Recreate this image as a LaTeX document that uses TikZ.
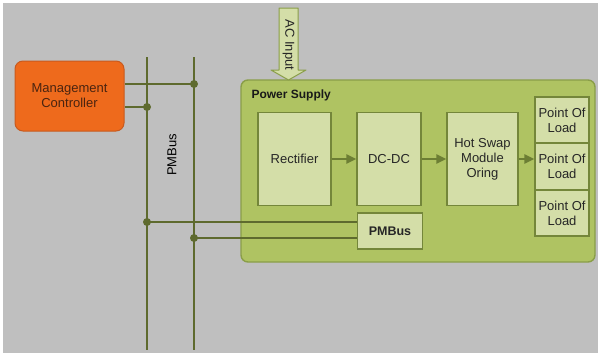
\documentclass[tikz,border=0pt]{standalone}
\usepackage{fontspec}
\setmainfont{Liberation Sans}
\usepackage{tikz}
\usetikzlibrary{arrows.meta,calc,positioning}
\definecolor{bggrey}{HTML}{BFBFBF}
\definecolor{mcorange}{HTML}{EE6A1C}
\definecolor{mcedge}{HTML}{C85A1E}
\definecolor{mctext}{HTML}{4A2410}
\definecolor{psgreen}{HTML}{AFC362}
\definecolor{psedge}{HTML}{8A9E48}
\definecolor{blockfill}{HTML}{D4DEA8}
\definecolor{blockedge}{HTML}{74863A}
\definecolor{busolive}{HTML}{5E6A2E}
\definecolor{flowolive}{HTML}{6C7E34}
\tikzset{
  label font/.style = {font=\fontsize{13}{15}\selectfont},
  controller/.style = {draw=mcedge, fill=mcorange, line width=1pt,
                       rounded corners=8pt, align=center, text=mctext,
                       label font},
  supply box/.style = {draw=psedge, fill=psgreen, line width=1.4pt,
                       rounded corners=7pt},
  block/.style      = {draw=blockedge, fill=blockfill, line width=1.2pt,
                       align=center, text=black!85, inner sep=1pt, label font},
  bus line/.style   = {busolive, line width=1.6pt},
  bus tap/.style    = {busolive, line width=1.4pt},
  bus dot/.style    = {circle, fill=busolive, inner sep=0pt, minimum size=8pt},
  flow/.style       = {flowolive, line width=2pt,
                       -{Triangle[length=10pt,width=9pt]}},
  ac arrow/.style   = {draw=psedge, fill=blockfill, line width=1pt,
                       line join=round},
}
\begin{document}
\begin{tikzpicture}[x=1pt,y=-1pt]
  % page and background
  \fill[white] (0,0) rectangle (601,356);
  \fill[bggrey] (3,3) rectangle (598,353);

  % management controller
  \node[controller, minimum width=109pt, minimum height=70pt] (mc) at (69.5,96)
    {Management\\Controller};

  % the two PMBus wires
  \coordinate (busAtop) at (147,57);
  \coordinate (busAbot) at (147,350);
  \coordinate (busBtop) at (194,57);
  \coordinate (busBbot) at (194,350);
  \draw[bus line] (busAtop) -- (busAbot);
  \draw[bus line] (busBtop) -- (busBbot);
  \node[label font, rotate=90] (buslabel) at (172,155) {PMBus};

  % power supply
  \node[supply box, minimum width=354pt, minimum height=182pt] (ps) at (418,171) {};
  \node[anchor=base west, font=\fontsize{12}{14}\selectfont\bfseries,
        text=black!90] (pstitle) at (248,98) {Power Supply};

  % AC input
  \draw[ac arrow] (279,8) -- (298,8) -- (298,70) -- (306,70) -- (288.5,80)
    -- (271,70) -- (279,70) -- cycle;
  \node[label font, rotate=-90, text=black!85] (acin) at (288.5,45) {AC Input};

  % blocks
  \node[block, minimum width=73pt, minimum height=93pt] (rect) at (294.5,159) {Rectifier};
  \node[block, minimum width=64pt, minimum height=93pt] (dcdc) at (389,159) {DC-DC};
  \node[block, minimum width=71pt, minimum height=93pt] (hsw) at (482.5,159)
    {Hot Swap\\Module\\Oring};
  \node[block, minimum width=54pt, minimum height=46pt] (pol1) at (562,120) {Point Of\\Load};
  \node[block, minimum width=54pt, minimum height=47pt] (pol2) at (562,166.5) {Point Of\\Load};
  \node[block, minimum width=54pt, minimum height=46pt] (pol3) at (562,213) {Point Of\\Load};
  \node[block, minimum width=65pt, minimum height=36pt,
        font=\fontsize{12.5}{14}\selectfont\bfseries] (pmb) at (390,231) {PMBus};

  \draw[flow] (rect.east) -- (dcdc.west);
  \draw[flow] (dcdc.east) -- (hsw.west);
  \draw[flow] (hsw.east) -- (hsw.east -| pol2.west);

  % taps on the bus
  \node[bus dot] (dotB1) at (194,84) {};
  \node[bus dot] (dotA1) at (147,107) {};
  \node[bus dot] (dotA2) at (147,222) {};
  \node[bus dot] (dotB2) at (194,238) {};
  \draw[bus tap] (mc.east |- dotB1) -- (dotB1.center);
  \draw[bus tap] (mc.east |- dotA1) -- (dotA1.center);
  \draw[bus tap] (dotA2.center) -- (pmb.west |- dotA2);
  \draw[bus tap] (dotB2.center) -- (pmb.west |- dotB2);
\end{tikzpicture}
\end{document}
